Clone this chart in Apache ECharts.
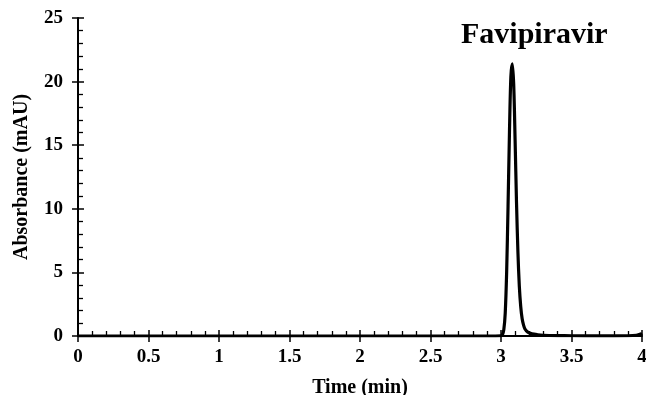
<!DOCTYPE html>
<html><head><meta charset="utf-8">
<script src="https://cdn.jsdelivr.net/npm/echarts@6/dist/echarts.min.js"></script>
<style>html,body{margin:0;padding:0;background:#fff}#c{width:646px;height:395px}</style>
</head><body><div id="c"></div>
<script>
var times = [0, 0.5, 1, 1.5, 2, 2.5, 2.9, 3.0, 3.01, 3.02, 3.03, 3.04, 3.05, 3.06, 3.07, 3.08, 3.09, 3.10, 3.11, 3.12, 3.13, 3.14, 3.15, 3.16, 3.17, 3.19, 3.22, 3.26, 3.3, 3.4, 3.5, 3.7, 3.9, 3.96, 3.99, 4.0];
var absorbance = [0, 0, 0, 0, 0, 0, 0, 0.02, 0.1, 0.5, 1.8, 5.0, 10.2, 16.0, 20.4, 21.4, 19.8, 15.4, 10.5, 6.6, 3.9, 2.3, 1.35, 0.85, 0.55, 0.3, 0.17, 0.1, 0.06, 0.03, 0.02, 0.01, 0.02, 0.06, 0.15, 0.22];
var xTicks = [0, 0.5, 1, 1.5, 2, 2.5, 3, 3.5, 4];
var yTicks = [0, 5, 10, 15, 20, 25];
var peakLabel = 'Favipiravir';
var xTitle = 'Time (min)';
var yTitle = 'Absorbance (mAU)';

var font = 'Liberation Serif';
var pts = times.map(function(t, i){ return [t, absorbance[i]]; });
var chart = echarts.init(document.getElementById('c'), null, {renderer: 'canvas'});
var lbl = {fontFamily: font, fontWeight: 'bold', fontSize: 19, color: '#000'};
var minor = {show: true, splitNumber: 5, length: 5, lineStyle: {color: '#000', width: 1.3}};
function xAx(primary) {
  return {
    type: 'value', position: 'bottom', min: xTicks[0], max: xTicks[xTicks.length-1], interval: 0.5,
    axisLine: {show: primary, onZero: false, lineStyle: {color: '#000', width: 2}},
    axisTick: {show: true, inside: !primary, length: 6, lineStyle: {color: '#000', width: 1.5}},
    minorTick: primary ? {show: false} : minor,
    axisLabel: primary ? Object.assign({margin: 12, formatter: function(v){return String(v);}}, lbl) : {show: false},
    splitLine: {show: false},
    name: primary ? xTitle : '', nameLocation: 'middle', nameGap: 42,
    nameTextStyle: {fontFamily: font, fontWeight: 'bold', fontSize: 20, color: '#000'}
  };
}
function yAx(primary) {
  return {
    type: 'value', position: 'left', min: yTicks[0], max: yTicks[yTicks.length-1], interval: 5,
    axisLine: {show: primary, onZero: false, lineStyle: {color: '#000', width: 2}},
    axisTick: {show: true, inside: !primary, length: 6, lineStyle: {color: '#000', width: 1.5}},
    minorTick: primary ? {show: false} : minor,
    axisLabel: primary ? Object.assign({margin: 15}, lbl) : {show: false},
    splitLine: {show: false},
    name: primary ? yTitle : '', nameLocation: 'middle', nameGap: 46,
    nameTextStyle: {fontFamily: font, fontWeight: 'bold', fontSize: 20, color: '#000'}
  };
}
chart.setOption({
  animation: false,
  grid: {left: 78, right: 4, top: 18, bottom: 59, containLabel: false, outerBoundsMode: 'none'},
  xAxis: [xAx(true), xAx(false)],
  yAxis: [yAx(true), yAx(false)],
  series: [{
    type: 'line', data: pts, xAxisIndex: 0, yAxisIndex: 0, smooth: 0.3, showSymbol: false,
    lineStyle: {color: '#000', width: 3.2}, z: 5
  }],
  graphic: [{
    type: 'text', left: 461, top: 20,
    style: {text: peakLabel, fontFamily: font, fontWeight: 'bold', fontSize: 30, fill: '#000'}
  }]
});
</script></body></html>
